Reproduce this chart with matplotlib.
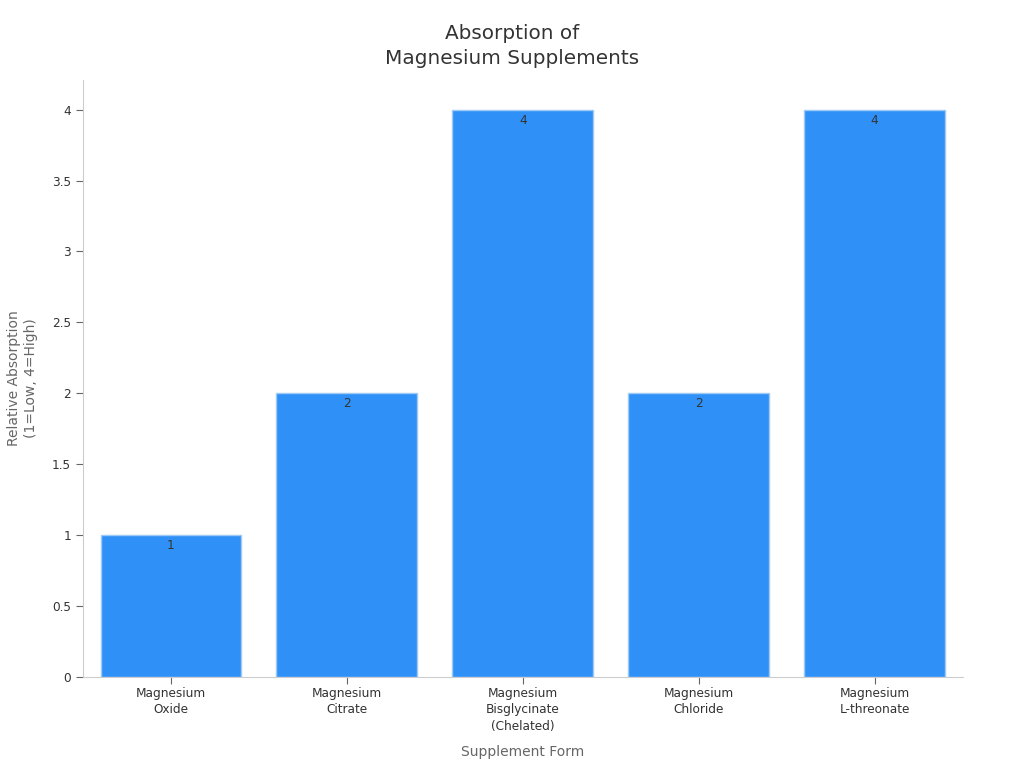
import matplotlib
matplotlib.use("Agg")
import matplotlib.pyplot as plt
from matplotlib.ticker import FuncFormatter, MultipleLocator

# data
forms = ["Magnesium\nOxide", "Magnesium\nCitrate", "Magnesium\nBisglycinate\n(Chelated)",
         "Magnesium\nChloride", "Magnesium\nL-threonate"]
absorption = [1, 2, 4, 2, 4]

fig = plt.figure(figsize=(10.24, 7.68), dpi=100)
ax = fig.add_axes([0.081, 0.1185, 0.859, 0.7775])

x = list(range(len(forms)))
bars = ax.bar(x, absorption, width=0.8, color="#2f91f7", edgecolor="#9ccaf5", linewidth=1)

for b, v in zip(bars, absorption):
    ax.annotate(str(v), (b.get_x() + b.get_width() / 2, b.get_height()),
                xytext=(0, -3), textcoords="offset points",
                ha="center", va="top", fontsize=8.7, color="#333333")

ax.set_xlim(-0.5, len(forms) - 0.5)
ax.set_ylim(0, 4.21)
ax.set_xticks(x)
ax.set_xticklabels(forms, fontsize=8.7, color="#333333", linespacing=1.35)
ax.yaxis.set_major_locator(MultipleLocator(0.5))
ax.yaxis.set_major_formatter(FuncFormatter(lambda v, p: "%g" % v))
ax.tick_params(axis="y", labelsize=8.7, labelcolor="#333333", color="#666666", length=5)
ax.tick_params(axis="x", color="#666666", length=5, pad=2)

for s in ["top", "right"]:
    ax.spines[s].set_visible(False)
for s in ["left", "bottom"]:
    ax.spines[s].set_color("#cccccc")

ax.set_xlabel("Supplement Form", fontsize=10, color="#666666", labelpad=9)
ax.set_ylabel("Relative Absorption\n(1=Low, 4=High)", fontsize=10, color="#666666",
              labelpad=10, linespacing=1.3)
fig.text(0.5, 1 - 46 / 768, "Absorption of\nMagnesium Supplements", fontsize=14.4,
         color="#333333", ha="center", va="center", linespacing=1.45)

fig.savefig("out.png", dpi=100)
